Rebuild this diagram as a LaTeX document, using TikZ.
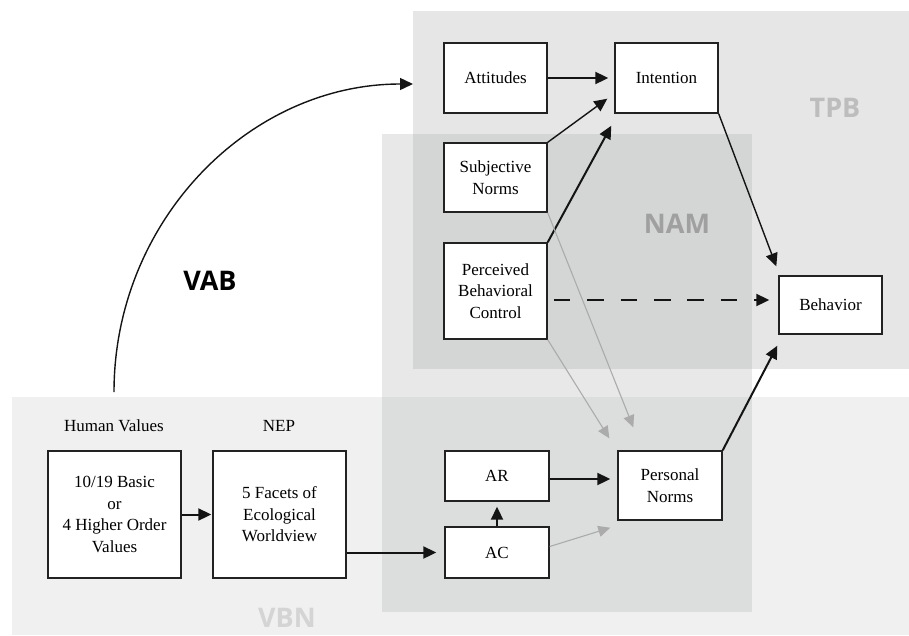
\documentclass[tikz,border=0pt]{standalone}
\usepackage{fontspec}
\setmainfont{Liberation Serif}
\setsansfont{Open Sans}
\usetikzlibrary{arrows.meta,calc}
\definecolor{tpbfill}{HTML}{E6E6E6}
\definecolor{vbnfill}{HTML}{F0F0F0}
\definecolor{namfill}{HTML}{E8E8E8}
\definecolor{namtpb}{HTML}{D4D5D5}
\definecolor{namvbn}{HTML}{DCDDDD}
\definecolor{tpbtext}{HTML}{BDBDBD}
\definecolor{namtext}{HTML}{A0A0A0}
\definecolor{vbntext}{HTML}{D4D4D4}
\definecolor{boxline}{HTML}{222222}
\definecolor{grayline}{HTML}{ABABAB}
\begin{document}
\begin{tikzpicture}[x=1pt,y=-1pt,
  box/.style={draw=boxline, line width=1.4pt, fill=white, inner sep=0pt, align=center,
    font=\fontsize{17}{21.5}\selectfont},
  plainlab/.style={inner sep=0pt, font=\fontsize{17}{21.5}\selectfont},
  lab/.style={inner sep=0pt, font=\sffamily\bfseries\fontsize{27}{30}\selectfont},
  arr/.style={-{Triangle[length=13pt,width=12pt]}, line width=2pt, draw=black!92},
  arrthin/.style={-{Triangle[length=13pt,width=12pt]}, line width=1.4pt, draw=black!92},
  grayarr/.style={-{Triangle[length=12pt,width=11pt]}, line width=1.1pt, draw=grayline}]
\useasboundingbox (0,0) rectangle (909,635);
% regions
\fill[vbnfill] (12,397) rectangle (909,635);
\fill[tpbfill] (413,11) rectangle (909,369);
\fill[namfill] (382,134) rectangle (752,612);
\fill[namtpb] (413,134) rectangle (752,369);
\fill[namvbn] (382,397) rectangle (752,612);
% region labels
\node[lab, text=tpbtext] (tpbl) at (835,108) {TPB};
\node[lab, text=namtext] (naml) at (677,224) {NAM};
\node[lab, text=vbntext] (vbnl) at (287,618) {VBN};
\node[lab, text=black] (vabl) at (210,281) {VAB};
% nodes
\node[box, minimum width=103pt, minimum height=70pt] (att) at (495.5,78) {Attitudes};
\node[box, minimum width=103pt, minimum height=70pt] (int) at (666.5,78) {Intention};
\node[box, minimum width=103pt, minimum height=69pt] (sn) at (495.5,177.5) {Subjective\\Norms};
\node[box, minimum width=103pt, minimum height=96pt] (pbc) at (495.5,291) {Perceived\\Behavioral\\Control};
\node[box, minimum width=103pt, minimum height=58pt] (beh) at (830.5,305) {Behavior};
\node[box, minimum width=133pt, minimum height=127pt] (hv) at (114.5,514.5) {10/19 Basic\\or\\4 Higher Order\\Values};
\node[box, minimum width=133pt, minimum height=127pt] (nep) at (279.5,514.5) {5 Facets of\\Ecological\\Worldview};
\node[box, minimum width=104pt, minimum height=50pt] (ar) at (497,476) {AR};
\node[box, minimum width=104pt, minimum height=51pt] (ac) at (497,552.5) {AC};
\node[box, minimum width=104pt, minimum height=69pt] (pn) at (670,485.5) {Personal\\Norms};
\node[plainlab] (hvl) at (114,426) {Human Values};
\node[plainlab] (nepl) at (279,426) {NEP};
% VAB arc
\coordinate (vab0) at (114,392);
\coordinate (tpbin) at (413,84);
\draw[arrthin] (vab0) .. controls (114,222) and (248,84) .. (tpbin);
% connectors
\draw[arr, shorten >=6pt] (att) -- (int);
\draw[arrthin] (sn.north east) -- ($(int.south west)+(-7,-15)$);
\draw[arr] (pbc.north east) -- ($(int.south west)+(-3,12)$);
\draw[arrthin] (int.south east) -- ($(beh.north west)+(-2,-9)$);
\draw[arr] (pn.north east) -- ($(beh.south west)+(-1,11)$);
\draw[arr, dash pattern=on 16.7pt off 16.7pt] ($(pbc.east)+(6,9)$) -- ($(beh.west)+(-9,-5)$);
\draw[grayarr] (sn.south east) -- ($(pn.north west)+(16,-23)$);
\draw[grayarr] (pbc.south east) -- ($(pn.north west)+(-8,-12)$);
\draw[grayarr] ($(ac.east)+(0,-6)$) -- ($(pn.south west)+(-7,7)$);
\draw[arr, shorten >=1pt] (hv) -- (nep);
\draw[arr, shorten >=8pt] (nep.east |- ac.west) -- (ac.west);
\draw[arr, shorten >=5pt] (ac) -- (ar);
\draw[arr, shorten >=7pt] ($(ar.east)+(0,3)$) -- ($(ar.east -| pn.west)+(0,3)$);
\end{tikzpicture}
\end{document}
